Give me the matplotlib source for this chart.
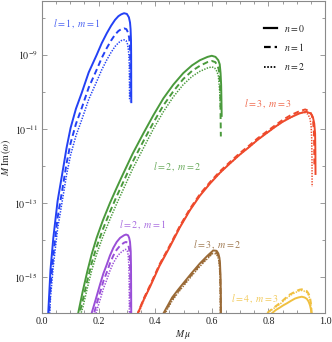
import numpy as np
import matplotlib
matplotlib.use("Agg")
import matplotlib.pyplot as plt
from matplotlib.ticker import FixedLocator, MultipleLocator, NullFormatter

plt.rcParams['font.family'] = ['Liberation Serif', 'DejaVu Serif']
plt.rcParams['mathtext.fontset'] = 'stix'

# ---- data: (M mu, log10 of M Im(omega)) ----
# l=1, m=1
mu_11_n0 = [0.018, 0.022, 0.030, 0.040, 0.055, 0.073, 0.087, 0.101, 0.120, 0.140, 0.165, 0.193, 0.211, 0.229, 0.244, 0.258, 0.270, 0.280, 0.290, 0.300, 0.307, 0.311, 0.313, 0.3145, 0.315, 0.3155]
lg_11_n0 = [-16.6, -15.97, -14.80, -13.94, -12.95, -12.14, -11.50, -10.97, -10.45, -10.03, -9.47, -9.00, -8.68, -8.41, -8.21, -8.05, -7.95, -7.90, -7.87, -7.89, -7.98, -8.12, -8.30, -8.60, -9.00, -10.30]
mu_11_n1 = [0.022, 0.026, 0.030, 0.040, 0.055, 0.073, 0.087, 0.101, 0.120, 0.140, 0.165, 0.193, 0.211, 0.229, 0.244, 0.258, 0.270, 0.280, 0.290, 0.298, 0.304, 0.308, 0.310, 0.3115, 0.312, 0.3125]
lg_11_n1 = [-16.43, -15.86, -15.26, -14.40, -13.40, -12.58, -11.92, -11.38, -10.86, -10.44, -9.88, -9.40, -9.08, -8.81, -8.61, -8.45, -8.35, -8.30, -8.28, -8.30, -8.39, -8.53, -8.70, -9.00, -9.40, -10.25]
mu_11_n2 = [0.022, 0.026, 0.030, 0.040, 0.055, 0.073, 0.087, 0.101, 0.120, 0.140, 0.165, 0.193, 0.211, 0.229, 0.244, 0.258, 0.270, 0.280, 0.290, 0.297, 0.302, 0.305, 0.307, 0.3085, 0.309, 0.3095]
lg_11_n2 = [-16.73, -16.16, -15.56, -14.70, -13.70, -12.88, -12.23, -11.70, -11.18, -10.76, -10.20, -9.72, -9.40, -9.13, -8.93, -8.77, -8.67, -8.61, -8.59, -8.61, -8.70, -8.84, -9.00, -9.30, -9.70, -10.20]
# l=2, m=2
mu_22_n0 = [0.120, 0.128, 0.144, 0.160, 0.176, 0.193, 0.215, 0.240, 0.262, 0.283, 0.320, 0.358, 0.394, 0.429, 0.464, 0.499, 0.530, 0.558, 0.585, 0.600, 0.613, 0.623, 0.628, 0.631, 0.633, 0.634, 0.635]
lg_22_n0 = [-16.4, -15.97, -15.38, -14.85, -14.37, -13.94, -13.47, -13.00, -12.62, -12.27, -11.67, -11.12, -10.62, -10.17, -9.80, -9.49, -9.28, -9.14, -9.05, -9.02, -9.05, -9.14, -9.25, -9.49, -9.80, -10.2, -10.67]
mu_22_n1 = [0.125, 0.133, 0.144, 0.160, 0.176, 0.193, 0.215, 0.240, 0.262, 0.283, 0.320, 0.358, 0.394, 0.429, 0.464, 0.499, 0.530, 0.558, 0.585, 0.600, 0.612, 0.620, 0.625, 0.628, 0.630, 0.631, 0.632]
lg_22_n1 = [-16.4, -15.97, -15.63, -15.10, -14.61, -14.18, -13.71, -13.24, -12.85, -12.50, -11.89, -11.33, -10.82, -10.36, -9.98, -9.65, -9.43, -9.29, -9.19, -9.16, -9.19, -9.28, -9.40, -9.65, -10.0, -10.6, -11.2]
mu_22_n2 = [0.130, 0.138, 0.144, 0.160, 0.176, 0.193, 0.215, 0.240, 0.262, 0.283, 0.320, 0.358, 0.394, 0.429, 0.464, 0.499, 0.530, 0.558, 0.585, 0.600, 0.610, 0.618, 0.623, 0.626, 0.628, 0.629, 0.630]
lg_22_n2 = [-16.4, -15.97, -15.83, -15.30, -14.81, -14.38, -13.91, -13.44, -13.05, -12.70, -12.08, -11.52, -10.99, -10.53, -10.13, -9.80, -9.58, -9.44, -9.35, -9.32, -9.35, -9.44, -9.56, -9.80, -10.0, -10.2, -10.4]
# l=3, m=3
mu_33_n0 = [0.330, 0.339, 0.360, 0.382, 0.415, 0.452, 0.487, 0.523, 0.558, 0.594, 0.629, 0.664, 0.699, 0.733, 0.762, 0.792, 0.822, 0.851, 0.880, 0.909, 0.933, 0.950, 0.957, 0.962, 0.965, 0.966, 0.9665]
lg_33_n0 = [-16.3, -15.97, -15.60, -15.26, -14.70, -14.18, -13.66, -13.19, -12.80, -12.47, -12.18, -11.93, -11.69, -11.48, -11.29, -11.12, -10.95, -10.80, -10.68, -10.58, -10.53, -10.58, -10.67, -10.85, -11.12, -11.6, -12.24]
mu_33_n1 = [0.332, 0.340, 0.360, 0.382, 0.415, 0.452, 0.487, 0.523, 0.558, 0.594, 0.629, 0.664, 0.699, 0.733, 0.762, 0.792, 0.822, 0.851, 0.880, 0.909, 0.930, 0.946, 0.953, 0.958, 0.961, 0.962, 0.9625]
lg_33_n1 = [-16.3, -15.95, -15.57, -15.22, -14.66, -14.14, -13.62, -13.15, -12.76, -12.43, -12.14, -11.89, -11.65, -11.44, -11.25, -11.08, -10.91, -10.75, -10.62, -10.52, -10.47, -10.52, -10.62, -10.80, -11.10, -11.5, -12.0]
mu_33_n2 = [0.334, 0.342, 0.360, 0.382, 0.415, 0.452, 0.487, 0.523, 0.558, 0.594, 0.629, 0.664, 0.699, 0.733, 0.762, 0.792, 0.822, 0.851, 0.880, 0.905, 0.925, 0.940, 0.947, 0.951, 0.953, 0.954, 0.9545]
lg_33_n2 = [-16.3, -15.97, -15.62, -15.24, -14.68, -14.16, -13.65, -13.18, -12.79, -12.46, -12.18, -11.93, -11.69, -11.48, -11.29, -11.12, -10.95, -10.80, -10.68, -10.58, -10.54, -10.60, -10.72, -10.92, -11.25, -11.8, -12.56]
# l=2, m=1
mu_21_n0 = [0.170, 0.176, 0.190, 0.205, 0.217, 0.229, 0.240, 0.252, 0.264, 0.276, 0.290, 0.297, 0.304, 0.308, 0.311, 0.3135, 0.3145, 0.315, 0.3155]
lg_21_n0 = [-16.2, -15.96, -15.60, -15.20, -14.90, -14.66, -14.42, -14.21, -14.05, -13.94, -13.87, -13.85, -13.87, -13.94, -14.05, -14.30, -14.7, -15.4, -16.3]
mu_21_n1 = [0.178, 0.184, 0.194, 0.205, 0.217, 0.229, 0.240, 0.252, 0.264, 0.276, 0.290, 0.297, 0.302, 0.305, 0.308, 0.3105, 0.3115, 0.312, 0.3125]
lg_21_n1 = [-16.2, -15.98, -15.70, -15.42, -15.11, -14.87, -14.63, -14.42, -14.26, -14.15, -14.07, -14.05, -14.07, -14.13, -14.25, -14.50, -14.9, -15.6, -16.3]
mu_21_n2 = [0.185, 0.191, 0.198, 0.205, 0.217, 0.229, 0.240, 0.252, 0.264, 0.276, 0.290, 0.295, 0.300, 0.303, 0.305, 0.307, 0.308, 0.3085, 0.309]
lg_21_n2 = [-16.2, -15.98, -15.79, -15.62, -15.31, -15.07, -14.83, -14.62, -14.46, -14.35, -14.27, -14.25, -14.27, -14.33, -14.45, -14.70, -15.1, -15.6, -16.3]
# l=3, m=2
mu_32_n0 = [0.420, 0.429, 0.445, 0.460, 0.480, 0.499, 0.515, 0.530, 0.558, 0.585, 0.605, 0.617, 0.623, 0.627, 0.629, 0.631, 0.632, 0.6325]
lg_32_n0 = [-16.3, -15.98, -15.76, -15.55, -15.35, -15.17, -15.02, -14.88, -14.63, -14.42, -14.28, -14.29, -14.36, -14.48, -14.63, -15.0, -15.5, -16.2]
mu_32_n1 = [0.423, 0.432, 0.445, 0.460, 0.480, 0.499, 0.515, 0.530, 0.558, 0.585, 0.605, 0.616, 0.622, 0.626, 0.628, 0.630, 0.631, 0.6315]
lg_32_n1 = [-16.3, -15.98, -15.80, -15.60, -15.39, -15.21, -15.06, -14.92, -14.67, -14.46, -14.32, -14.33, -14.40, -14.52, -14.67, -15.0, -15.5, -16.2]
mu_32_n2 = [0.426, 0.435, 0.445, 0.460, 0.480, 0.499, 0.515, 0.530, 0.558, 0.585, 0.604, 0.615, 0.621, 0.625, 0.627, 0.629, 0.630, 0.6305]
lg_32_n2 = [-16.3, -15.98, -15.84, -15.64, -15.43, -15.25, -15.10, -14.96, -14.71, -14.50, -14.36, -14.37, -14.44, -14.56, -14.71, -15.0, -15.5, -16.2]
# l=4, m=3
mu_43_n0 = [0.805, 0.812, 0.826, 0.841, 0.853, 0.865, 0.880, 0.894, 0.906, 0.918, 0.928, 0.936, 0.942, 0.947, 0.951, 0.953, 0.954]
lg_43_n0 = [-16.2, -15.98, -15.89, -15.82, -15.76, -15.71, -15.64, -15.58, -15.55, -15.53, -15.55, -15.59, -15.66, -15.76, -15.90, -16.10, -16.40]
mu_43_n1 = [0.785, 0.794, 0.818, 0.841, 0.860, 0.876, 0.890, 0.900, 0.910, 0.918, 0.928, 0.936, 0.942, 0.947, 0.951, 0.953, 0.954]
lg_43_n1 = [-16.2, -15.98, -15.83, -15.70, -15.57, -15.47, -15.41, -15.37, -15.34, -15.33, -15.35, -15.38, -15.45, -15.54, -15.75, -16.0, -16.4]
mu_43_n2 = [0.787, 0.796, 0.818, 0.841, 0.860, 0.876, 0.890, 0.900, 0.910, 0.918, 0.927, 0.935, 0.941, 0.946, 0.950, 0.952, 0.953]
lg_43_n2 = [-16.2, -15.98, -15.85, -15.73, -15.60, -15.50, -15.44, -15.40, -15.37, -15.36, -15.38, -15.41, -15.48, -15.57, -15.78, -16.0, -16.4]

mode_labels = [r"$l = 1\,,\; m = 1$", r"$l = 2\,,\; m = 2$", r"$l = 3\,,\; m = 3$",
               r"$l = 2\,,\; m = 1$", r"$l = 3\,,\; m = 2$", r"$l = 4\,,\; m = 3$"]
label_mu = [0.124, 0.476, 0.797, 0.355, 0.620, 0.753]
label_lg = [-8.16, -12.02, -10.32, -13.59, -14.11, -15.57]
overtone_labels = [r"$n = 0$", r"$n = 1$", r"$n = 2$"]

curves = [
    [(mu_11_n0, lg_11_n0), (mu_11_n1, lg_11_n1), (mu_11_n2, lg_11_n2)],
    [(mu_22_n0, lg_22_n0), (mu_22_n1, lg_22_n1), (mu_22_n2, lg_22_n2)],
    [(mu_33_n0, lg_33_n0), (mu_33_n1, lg_33_n1), (mu_33_n2, lg_33_n2)],
    [(mu_21_n0, lg_21_n0), (mu_21_n1, lg_21_n1), (mu_21_n2, lg_21_n2)],
    [(mu_32_n0, lg_32_n0), (mu_32_n1, lg_32_n1), (mu_32_n2, lg_32_n2)],
    [(mu_43_n0, lg_43_n0), (mu_43_n1, lg_43_n1), (mu_43_n2, lg_43_n2)],
]

colors = ['#2341f5', '#4a9a3c', '#ee4a2c', '#9a4fd8', '#9a6a36', '#f0c040']
label_colors = ['#4b63f2', '#6aab5c', '#f06a4e', '#a96ee0', '#a07a52', '#f2ca5a']
styles = ['-', (0, (3.0, 1.8)), (0, (0.9, 0.9))]
widths = [1.4, 1.4, 1.1]

fig = plt.figure(figsize=(3.32, 3.42), dpi=100)
ax = fig.add_axes([42/332, 1 - 313/342, 283/332, 312/342])

for curve_set, c in zip(curves, colors):
    for (mu, lg), ls, lw in zip(curve_set, styles, widths):
        ax.plot(mu, 10.0 ** np.array(lg), color=c, ls=ls, lw=lw, solid_capstyle='butt',
                solid_joinstyle='round')

for txt, x, y, c in zip(mode_labels, label_mu, label_lg, label_colors):
    ax.text(x, 10.0 ** y, txt, color=c, fontsize=7.2, ha='center', va='center')

ax.set_yscale('log')
ax.set_xlim(0.0, 1.0)
ax.set_ylim(10 ** -15.97, 10 ** -7.54)

xt = [0.0, 0.2, 0.4, 0.6, 0.8, 1.0]
ax.set_xticks(xt)
ax.set_xticklabels([f"{v:.1f}" for v in xt])
ax.xaxis.set_minor_locator(MultipleLocator(0.05))

yexp = [-15, -13, -11, -9]
ax.yaxis.set_major_locator(FixedLocator([10.0 ** e for e in yexp]))
ax.set_yticklabels([r"$10^{%d}$" % e for e in yexp])
ax.yaxis.set_minor_locator(FixedLocator([10.0 ** e for e in [-16, -14, -12, -10, -8]]))
ax.yaxis.set_minor_formatter(NullFormatter())

gray = '#8a8a8a'
for s in ax.spines.values():
    s.set_color(gray)
    s.set_linewidth(0.8)
ax.tick_params(which='both', direction='in', top=True, right=True, color=gray,
               labelsize=7.2, labelcolor='#222222', width=0.6)
ax.tick_params(which='major', length=3.5, pad=3)
ax.tick_params(which='minor', length=2)

ax.set_xlabel(r"$M\,\mu$", fontsize=7, color='#222222', labelpad=1)
ax.set_ylabel(r"$M\;\mathrm{Im}\,(\omega)$", fontsize=7, color='#222222', labelpad=1)

# legend
leg_y = [0.913, 0.853, 0.789]
for y, ls, lw, t in zip(leg_y, styles, widths, overtone_labels):
    ax.plot([0.784, 0.830], [y, y], transform=ax.transAxes, color='black', ls=ls, lw=lw + 0.2)
    ax.text(0.855, y, t, transform=ax.transAxes, fontsize=7, color='#222222', va='center', ha='left')

fig.savefig("out.png", dpi=100)
